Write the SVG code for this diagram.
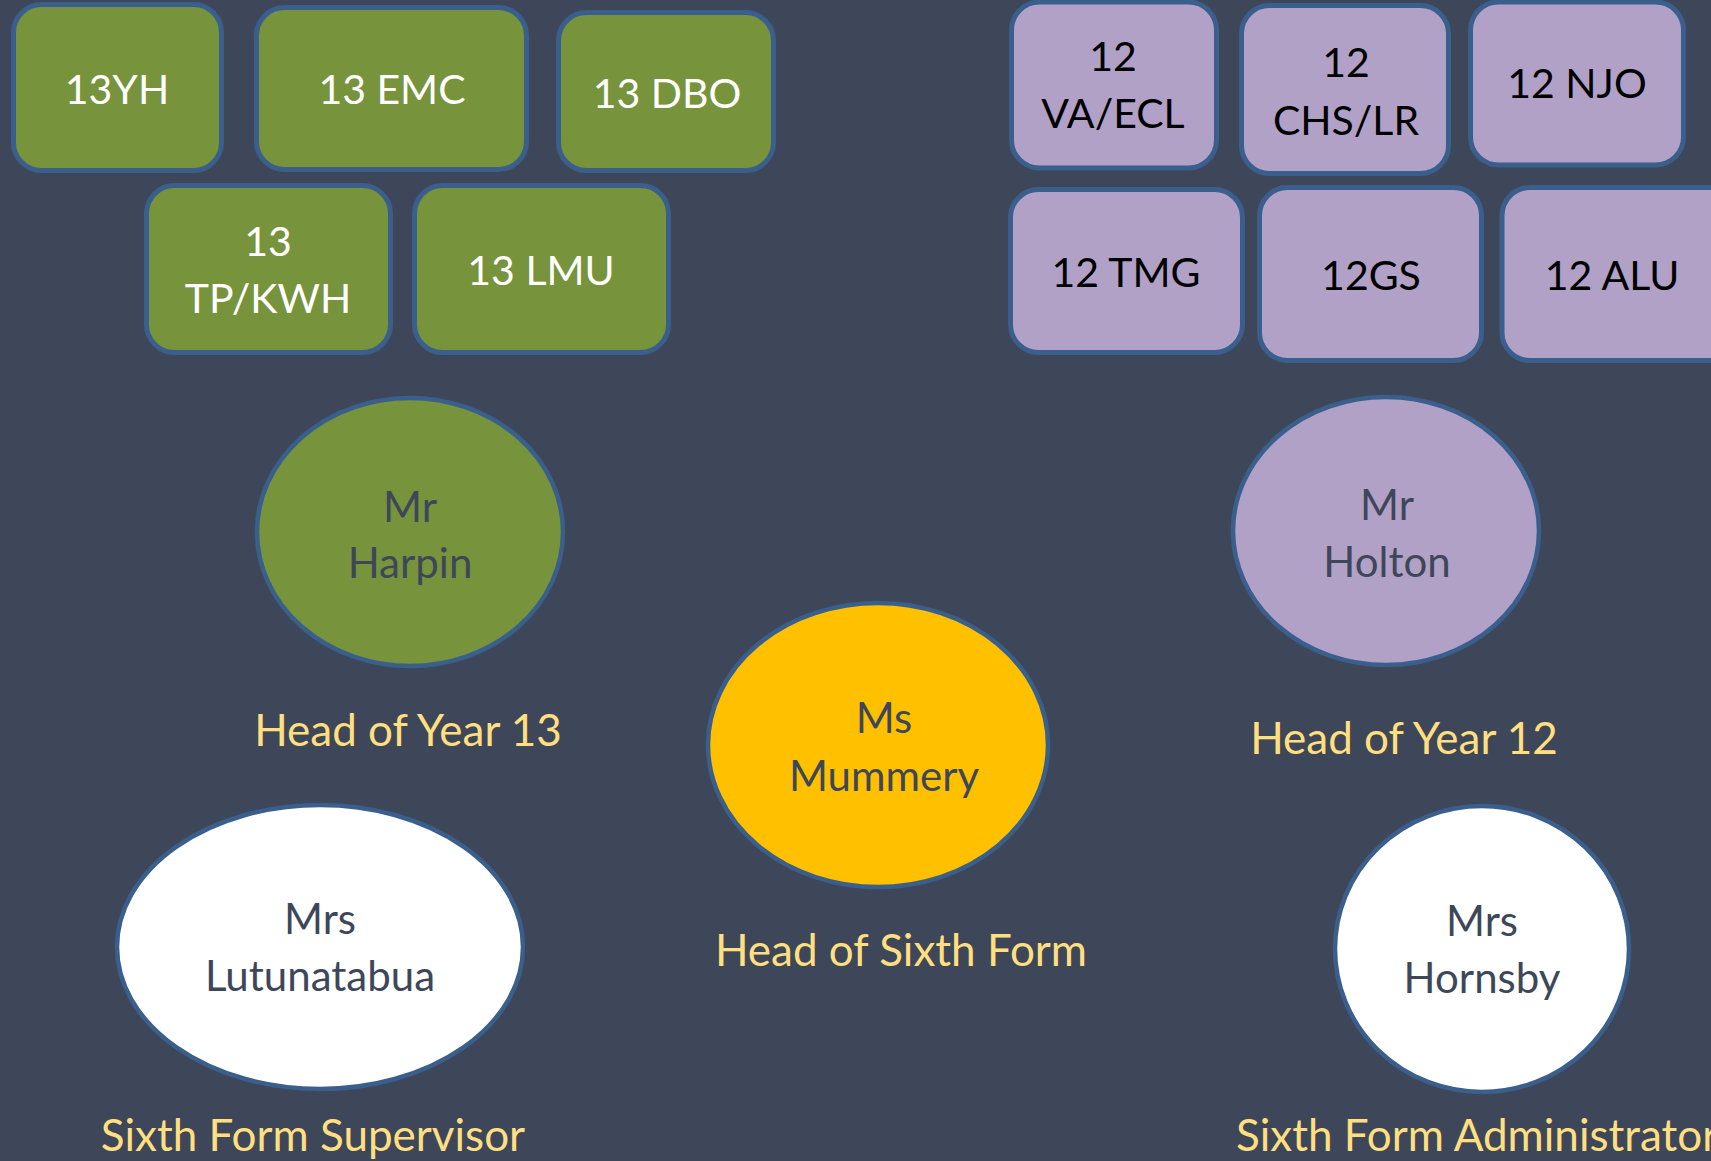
<svg xmlns="http://www.w3.org/2000/svg" width="1711" height="1161" viewBox="0 0 1711 1161">
<style>
.g{fill:#77933C;stroke:#3A5F8C;stroke-width:5}
.p{fill:#B2A1C7;stroke:#3A5F8C;stroke-width:5}
.e{stroke:#3A5F8C;stroke-width:4.5}
text{font-family:Lato,"Liberation Sans",sans-serif;text-anchor:middle}
.tw{fill:#FFFFFF;font-size:41px}
.tb{fill:#000000;font-size:41px}
.td{fill:#3E4759;font-size:42px}
.ty{fill:#FFDF80;font-size:44px}
</style>
<rect x="0" y="0" width="1711" height="1161" fill="#3E4759"/>
<g id="connectors"/>
<g id="n13YH"><rect class="g" x="13.5" y="4.5" width="208" height="166" rx="28"/><text class="tw" x="117" y="104">13YH</text></g>
<g id="n13EMC"><rect class="g" x="256.5" y="7.5" width="270" height="162" rx="28"/><text class="tw" x="392" y="104">13 EMC</text></g>
<g id="n13DBO"><rect class="g" x="558.5" y="12.5" width="215" height="158" rx="28"/><text class="tw" x="667" y="108">13 DBO</text></g>
<g id="n13TPKWH"><rect class="g" x="146.5" y="185.5" width="244" height="167" rx="28"/><text class="tw" x="268" y="256">13</text><text class="tw" x="268" y="313">TP/KWH</text></g>
<g id="n13LMU"><rect class="g" x="414.5" y="185.5" width="254" height="167" rx="28"/><text class="tw" x="541" y="285">13 LMU</text></g>
<g id="n12VAECL"><rect class="p" x="1011.5" y="2" width="205" height="166" rx="28"/><text class="tb" x="1113" y="71">12</text><text class="tb" x="1113" y="128">VA/ECL</text></g>
<g id="n12CHSLR"><rect class="p" x="1241.5" y="5.5" width="207" height="168" rx="28"/><text class="tb" x="1346" y="77">12</text><text class="tb" x="1346" y="135">CHS/LR</text></g>
<g id="n12NJO"><rect class="p" x="1470.5" y="2" width="213" height="163" rx="28"/><text class="tb" x="1577" y="98">12 NJO</text></g>
<g id="n12TMG"><rect class="p" x="1010.5" y="189.5" width="232" height="163" rx="28"/><text class="tb" x="1126" y="287">12 TMG</text></g>
<g id="n12GS"><rect class="p" x="1259.5" y="187.5" width="222" height="173" rx="28"/><text class="tb" x="1371" y="290">12GS</text></g>
<g id="n12ALU"><rect class="p" x="1502" y="187.5" width="240" height="173" rx="28"/><text class="tb" x="1612" y="290">12 ALU</text></g>
<g id="harpin"><ellipse class="e" cx="410" cy="532" rx="153" ry="134" fill="#77933C"/><text class="td" x="410" y="522">Mr</text><text class="td" x="410" y="578">Harpin</text></g>
<g id="holton"><ellipse class="e" cx="1386" cy="531" rx="153" ry="134" fill="#B2A1C7"/><text class="td" x="1387" y="520">Mr</text><text class="td" x="1387" y="577">Holton</text></g>
<g id="mummery"><ellipse class="e" cx="878" cy="745" rx="170" ry="142" fill="#FFC000"/><text class="td" x="884" y="733">Ms</text><text class="td" x="884" y="791">Mummery</text></g>
<g id="lutunatabua"><ellipse class="e" cx="320" cy="947" rx="203" ry="142" fill="#FFFFFF"/><text class="td" x="320" y="934">Mrs</text><text class="td" x="320" y="991">Lutunatabua</text></g>
<g id="hornsby"><ellipse class="e" cx="1482" cy="949" rx="147" ry="143" fill="#FFFFFF"/><text class="td" x="1482" y="936">Mrs</text><text class="td" x="1482" y="993">Hornsby</text></g>
<g id="lbl13"><text class="ty" x="408" y="746">Head of Year 13</text></g>
<g id="lbl12"><text class="ty" x="1404" y="754">Head of Year 12</text></g>
<g id="lblHead"><text class="ty" x="901" y="966">Head of Sixth Form</text></g>
<g id="lblSup"><text class="ty" x="313" y="1151">Sixth Form Supervisor</text></g>
<g id="lblAdm"><text class="ty" x="1236" y="1151" style="text-anchor:start">Sixth Form Administrator</text></g>
</svg>
